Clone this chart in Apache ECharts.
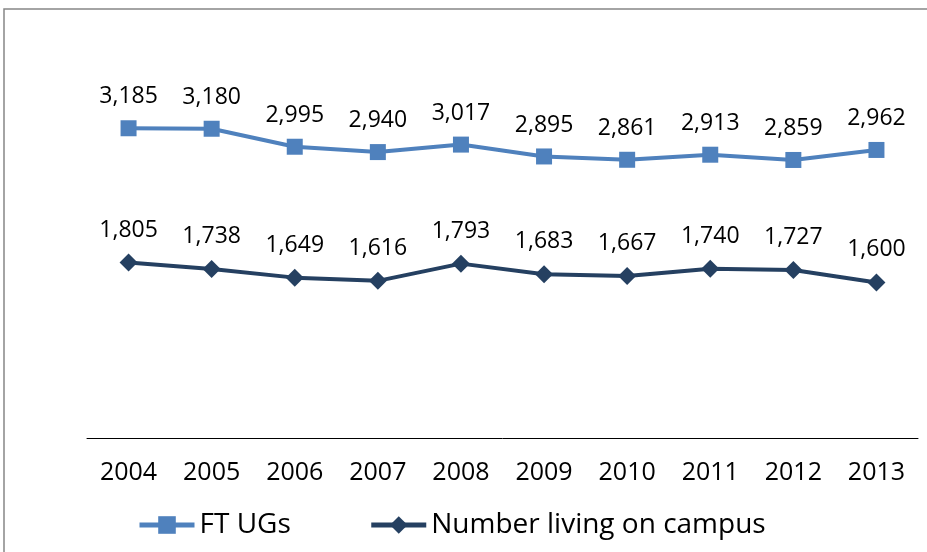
<!DOCTYPE html>
<html>
<head>
<meta charset="utf-8">
<script src="https://cdn.jsdelivr.net/npm/echarts@6/dist/echarts.min.js"></script>
<style>
  html, body { margin: 0; padding: 0; background: #fff; }
  #chart { width: 927px; height: 552px; }
</style>
</head>
<body>
<div id="chart"></div>
<script>
const years = ['2004', '2005', '2006', '2007', '2008', '2009', '2010', '2011', '2012', '2013'];
const ftUGs = [3185, 3180, 2995, 2940, 3017, 2895, 2861, 2913, 2859, 2962];
const livingOnCampus = [1805, 1738, 1649, 1616, 1793, 1683, 1667, 1740, 1727, 1600];

const font = 'Open Sans';
const myChart = echarts.init(document.getElementById('chart'));

function fmt (p) {
    return p.value.toLocaleString('en-US');
}

myChart.setOption({
    animation: false,
    textStyle: { fontFamily: font },
    // chart frame, cut off on the right and bottom
    graphic: [{
        type: 'rect',
        shape: { x: 4, y: 9, width: 1000, height: 1000 },
        style: { fill: 'none', stroke: '#868686', lineWidth: 1.5 }
    }],
    grid: { left: 87, right: 9, top: 49, bottom: 114 },
    legend: {
        left: 132,
        top: 506,
        itemWidth: 55,
        itemHeight: 22,
        itemGap: 78,
        lineStyle: { width: 5 },
        textStyle: { fontSize: 28, color: '#000', fontFamily: font },
        data: ['FT UGs', 'Number living on campus']
    },
    xAxis: {
        type: 'category',
        data: years,
        axisLine: { lineStyle: { color: '#000', width: 1 } },
        axisTick: { show: false },
        axisLabel: { fontSize: 25, color: '#000', margin: 22, fontFamily: font }
    },
    yAxis: {
        type: 'value',
        min: 0,
        max: 4000,
        show: false,
        splitLine: { show: false }
    },
    series: [
        {
            name: 'FT UGs',
            type: 'line',
            data: ftUGs,
            symbol: 'rect',
            symbolSize: 16,
            lineStyle: { color: '#4F81BD', width: 4 },
            itemStyle: { color: '#4F81BD' },
            label: {
                show: true,
                position: 'top',
                distance: 12,
                fontSize: 23,
                color: '#000',
                fontFamily: font,
                formatter: fmt
            }
        },
        {
            name: 'Number living on campus',
            type: 'line',
            data: livingOnCampus,
            symbol: 'diamond',
            symbolSize: 18,
            lineStyle: { color: '#254061', width: 4 },
            itemStyle: { color: '#254061' },
            label: {
                show: true,
                position: 'top',
                distance: 12,
                fontSize: 23,
                color: '#000',
                fontFamily: font,
                formatter: fmt
            }
        }
    ]
});
</script>
</body>
</html>
